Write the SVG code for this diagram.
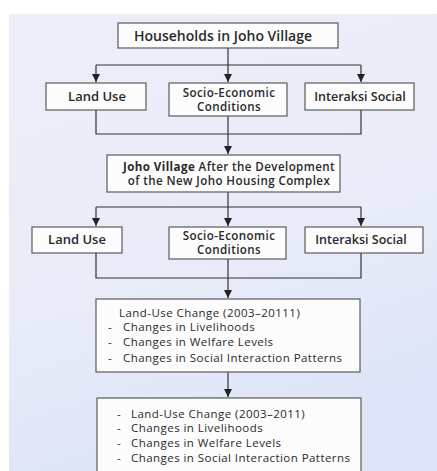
<svg xmlns="http://www.w3.org/2000/svg" width="437" height="471" viewBox="0 0 437 471">
<defs>
<linearGradient id="bg" x1="0" y1="0" x2="0.3" y2="1">
<stop offset="0" stop-color="#eceef8"/>
<stop offset="0.6" stop-color="#e9ecf8"/>
<stop offset="1" stop-color="#dde5f8"/>
</linearGradient>
<marker id="ah" viewBox="0 0 8 8" refX="8" refY="4" markerWidth="8" markerHeight="8" markerUnits="userSpaceOnUse" orient="auto">
<path d="M0,0 L8,4 L0,8 Z" fill="#222"/>
</marker>
<style>
.box{fill:#fcfcfd;stroke:#5a5a5a;stroke-width:1.2}
.t{font-family:"Open Sans","Liberation Sans",sans-serif;font-weight:600;font-size:12.5px;fill:#2a2a2a;text-anchor:middle}
.s{font-size:13px}
.h{font-size:14px}
.two{font-size:11.6px;letter-spacing:0.4px}
.b{font-family:"Open Sans","Liberation Sans",sans-serif;font-weight:500;font-size:11.5px;letter-spacing:0.45px;fill:#2a2a2a}
.c{fill:none;stroke:#333;stroke-width:1.2}
</style>
</defs>
<rect x="0" y="0" width="437" height="471" fill="#ffffff"/>
<rect x="9" y="14" width="428" height="457" fill="url(#bg)"/>
<g id="connectors" class="c">
<path d="M228,48 V82" marker-end="url(#ah)"/>
<path d="M96,65 H361"/>
<path d="M96,65 V82" marker-end="url(#ah)"/>
<path d="M361,65 V82" marker-end="url(#ah)"/>
<path d="M96,110 V134 H361 V110"/>
<path d="M228,116 V154" marker-end="url(#ah)"/>
<path d="M228,192 V226" marker-end="url(#ah)"/>
<path d="M96,207 H361"/>
<path d="M96,207 V226" marker-end="url(#ah)"/>
<path d="M361,207 V226" marker-end="url(#ah)"/>
<path d="M96,253 V278 H361 V253"/>
<path d="M228,259 V298" marker-end="url(#ah)"/>
<path d="M228,372 V397" marker-end="url(#ah)"/>
</g>
<g id="households">
<rect class="box" x="118" y="23" width="220" height="25"/>
<text class="t h" x="223" y="41">Households in Joho Village</text>
</g>
<g id="landuse1">
<rect class="box" x="46" y="83" width="100" height="27"/>
<text class="t s" x="97" y="101">Land Use</text>
</g>
<g id="socio1">
<rect class="box" x="169" y="83" width="118" height="33"/>
<text class="t two" x="229" y="97">Socio-Economic</text>
<text class="t two" x="229" y="111">Conditions</text>
</g>
<g id="interaksi1">
<rect class="box" x="305" y="83" width="109" height="27"/>
<text class="t" x="360" y="101">Interaksi Social</text>
</g>
<g id="joho">
<rect class="box" x="107" y="155" width="233" height="37"/>
<text class="t two" x="229" y="171" letter-spacing="0.1"><tspan font-weight="700">Joho Village</tspan> After the Development</text>
<text class="t two" x="229" y="185" letter-spacing="0.3">of the New Joho Housing Complex</text>
</g>
<g id="landuse2">
<rect class="box" x="32" y="227" width="90" height="26"/>
<text class="t s" x="77" y="244">Land Use</text>
</g>
<g id="socio2">
<rect class="box" x="169" y="227" width="117" height="32"/>
<text class="t two" x="229" y="240">Socio-Economic</text>
<text class="t two" x="229" y="254">Conditions</text>
</g>
<g id="interaksi2">
<rect class="box" x="305" y="227" width="118" height="26"/>
<text class="t" x="361" y="244">Interaksi Social</text>
</g>
<g id="change1">
<rect class="box" x="96" y="299" width="264" height="73"/>
<text class="b" x="119" y="317">Land-Use Change (2003–20111)</text>
<text class="b" x="108" y="331">-</text><text class="b" x="123" y="331">Changes in Livelihoods</text>
<text class="b" x="108" y="346">-</text><text class="b" x="123" y="346">Changes in Welfare Levels</text>
<text class="b" x="108" y="362">-</text><text class="b" x="123" y="362">Changes in Social Interaction Patterns</text>
</g>
<g id="change2">
<rect class="box" x="97" y="398" width="264" height="80"/>
<text class="b" x="117" y="418">-</text><text class="b" x="131" y="418">Land-Use Change (2003–2011)</text>
<text class="b" x="117" y="432">-</text><text class="b" x="131" y="432">Changes in Livelihoods</text>
<text class="b" x="117" y="447">-</text><text class="b" x="131" y="447">Changes in Welfare Levels</text>
<text class="b" x="117" y="462">-</text><text class="b" x="131" y="462">Changes in Social Interaction Patterns</text>
</g>
</svg>
